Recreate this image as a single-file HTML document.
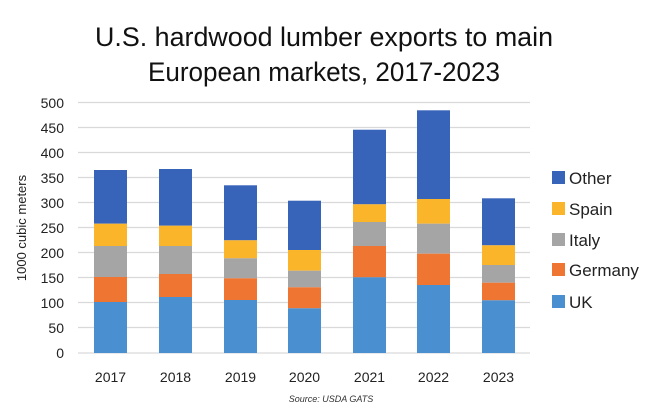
<!DOCTYPE html>
<html><head><meta charset="utf-8"><style>
html,body{margin:0;padding:0;background:#fff;}
svg{display:block;font-family:"Liberation Sans",sans-serif;}
</style></head><body>
<svg width="667" height="416" viewBox="0 0 667 416">
<rect width="667" height="416" fill="#fff"/>
<text x="324" y="46" font-size="27" text-anchor="middle" fill="#111" textLength="458" lengthAdjust="spacingAndGlyphs">U.S. hardwood lumber exports to main</text>
<text x="324" y="81" font-size="27" text-anchor="middle" fill="#111" textLength="352" lengthAdjust="spacingAndGlyphs">European markets, 2017-2023</text>
<g stroke="#d9d9d9" stroke-width="1.2">
<line x1="78" x2="530" y1="102.5" y2="102.5"/><line x1="78" x2="530" y1="127.5" y2="127.5"/>
<line x1="78" x2="530" y1="152.5" y2="152.5"/><line x1="78" x2="530" y1="177.5" y2="177.5"/>
<line x1="78" x2="530" y1="202.5" y2="202.5"/><line x1="78" x2="530" y1="227.5" y2="227.5"/>
<line x1="78" x2="530" y1="252.5" y2="252.5"/><line x1="78" x2="530" y1="277.5" y2="277.5"/>
<line x1="78" x2="530" y1="302.5" y2="302.5"/><line x1="78" x2="530" y1="327.5" y2="327.5"/>
<line x1="78" x2="530" y1="353" y2="353"/>
</g>
<g font-size="14" fill="#222" text-anchor="end">
<text x="64" y="108">500</text><text x="64" y="133">450</text><text x="64" y="158">400</text>
<text x="64" y="183">350</text><text x="64" y="208">300</text><text x="64" y="233">250</text>
<text x="64" y="258">200</text><text x="64" y="283">150</text><text x="64" y="308">100</text>
<text x="64" y="333">50</text><text x="64" y="358">0</text>
</g>
<text transform="translate(26,228) rotate(-90)" font-size="13" fill="#222" text-anchor="middle">1000 cubic meters</text>
<g id="bars">
<!-- x, top, o/s, s/i, i/g, g/u -->
</g>
<g>
<rect x="94" y="170" width="33" height="53.7" fill="#3763b8"/><rect x="94" y="223.7" width="33" height="22.3" fill="#fbb52b"/><rect x="94" y="246" width="33" height="31" fill="#a5a5a5"/><rect x="94" y="277" width="33" height="25" fill="#ef7533"/><rect x="94" y="302" width="33" height="51" fill="#4a8fd0"/>
<rect x="159" y="169" width="33" height="56.7" fill="#3763b8"/><rect x="159" y="225.7" width="33" height="20.3" fill="#fbb52b"/><rect x="159" y="246" width="33" height="28" fill="#a5a5a5"/><rect x="159" y="274" width="33" height="23" fill="#ef7533"/><rect x="159" y="297" width="33" height="56" fill="#4a8fd0"/>
<rect x="224" y="185.3" width="33" height="55" fill="#3763b8"/><rect x="224" y="240.3" width="33" height="18" fill="#fbb52b"/><rect x="224" y="258.3" width="33" height="20" fill="#a5a5a5"/><rect x="224" y="278.3" width="33" height="21.7" fill="#ef7533"/><rect x="224" y="300" width="33" height="53" fill="#4a8fd0"/>
<rect x="288" y="200.7" width="33" height="49.3" fill="#3763b8"/><rect x="288" y="250" width="33" height="20.7" fill="#fbb52b"/><rect x="288" y="270.7" width="33" height="16.6" fill="#a5a5a5"/><rect x="288" y="287.3" width="33" height="21" fill="#ef7533"/><rect x="288" y="308.3" width="33" height="44.7" fill="#4a8fd0"/>
<rect x="353" y="129.7" width="33" height="74.6" fill="#3763b8"/><rect x="353" y="204.3" width="33" height="17.7" fill="#fbb52b"/><rect x="353" y="222" width="33" height="24" fill="#a5a5a5"/><rect x="353" y="246" width="33" height="31.3" fill="#ef7533"/><rect x="353" y="277.3" width="33" height="75.7" fill="#4a8fd0"/>
<rect x="417" y="110.3" width="33" height="88.7" fill="#3763b8"/><rect x="417" y="199" width="33" height="24.7" fill="#fbb52b"/><rect x="417" y="223.7" width="33" height="30" fill="#a5a5a5"/><rect x="417" y="253.7" width="33" height="31.3" fill="#ef7533"/><rect x="417" y="285" width="33" height="68" fill="#4a8fd0"/>
<rect x="482" y="198.3" width="33" height="47" fill="#3763b8"/><rect x="482" y="245.3" width="33" height="19.7" fill="#fbb52b"/><rect x="482" y="265" width="33" height="17.7" fill="#a5a5a5"/><rect x="482" y="282.7" width="33" height="17.6" fill="#ef7533"/><rect x="482" y="300.3" width="33" height="52.7" fill="#4a8fd0"/>
</g>
<g font-size="14" fill="#222" text-anchor="middle">
<text x="110.5" y="382">2017</text><text x="175.5" y="382">2018</text><text x="240.5" y="382">2019</text>
<text x="304.5" y="382">2020</text><text x="369.5" y="382">2021</text><text x="433.5" y="382">2022</text><text x="498.5" y="382">2023</text>
</g>
<g font-size="17" fill="#222">
<rect x="552" y="171" width="13" height="13" fill="#3763b8"/><text x="569" y="184">Other</text>
<rect x="552" y="202" width="13" height="13" fill="#fbb52b"/><text x="569" y="215">Spain</text>
<rect x="552" y="233" width="13" height="13" fill="#a5a5a5"/><text x="569" y="246">Italy</text>
<rect x="552" y="263" width="13" height="13" fill="#ef7533"/><text x="569" y="276">Germany</text>
<rect x="552" y="295" width="13" height="13" fill="#4a8fd0"/><text x="569" y="308">UK</text>
</g>
<text x="331" y="402" font-size="9" font-style="italic" fill="#333" text-anchor="middle">Source: USDA GATS</text>
</svg>
</body></html>
